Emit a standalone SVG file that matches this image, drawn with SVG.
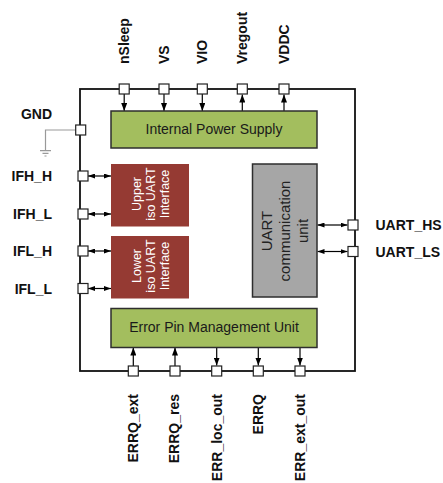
<svg xmlns="http://www.w3.org/2000/svg" width="443" height="483" viewBox="0 0 443 483">
<defs>
<marker id="ah" viewBox="0 0 8 6" refX="8" refY="3" markerWidth="8" markerHeight="6" markerUnits="userSpaceOnUse" orient="auto-start-reverse">
<path d="M0,0 L8,3 L0,6 Z" fill="#000"/>
</marker>
<marker id="as" viewBox="0 0 7 5" refX="7" refY="2.5" markerWidth="7" markerHeight="5" markerUnits="userSpaceOnUse" orient="auto-start-reverse">
<path d="M0,0 L7,2.5 L0,5 Z" fill="#000"/>
</marker>
</defs>
<style>
.lbl{font-family:"Liberation Sans",Arial,sans-serif;font-weight:bold;font-size:14px;fill:#111}
.pin{fill:#fff;stroke:#222;stroke-width:1.2}
.green{fill:#A3BE5E;stroke:#2e2e2e;stroke-width:1.5}
.red{fill:#953A33}
.gray{fill:#A6A6A6;stroke:#2e2e2e;stroke-width:1.5}
.btxt{font-family:"Liberation Sans",Arial,sans-serif;font-size:14px;fill:#1a1a1a;text-anchor:middle}
.wtxt{font-family:"Liberation Sans",Arial,sans-serif;font-size:12.5px;fill:#fff;text-anchor:middle}
.gtxt{font-family:"Liberation Sans",Arial,sans-serif;font-size:15px;fill:#222;text-anchor:middle}
.con{stroke:#000;stroke-width:1.2;fill:none}
</style>
<rect width="443" height="483" fill="#fff"/>
<g id="chip">
<rect x="80" y="89" width="275" height="282" fill="none" stroke="#111" stroke-width="1.8"/>
</g>
<g id="gnd-symbol">
<path d="M75.7,130 H45.5 V150.5" fill="none" stroke="#999" stroke-width="1.2"/>
<path d="M40,150.7 H51 M42.5,153.3 H48.5 M44.5,156 H46.5" stroke="#999" stroke-width="1.2"/>
</g>
<g id="connectors">
<line class="con" x1="124.2" y1="94" x2="124.2" y2="111" marker-end="url(#ah)"/>
<line class="con" x1="164" y1="94" x2="164" y2="111" marker-end="url(#ah)"/>
<line class="con" x1="202.3" y1="94" x2="202.3" y2="111" marker-end="url(#ah)"/>
<line class="con" x1="242.3" y1="111" x2="242.3" y2="94.5" marker-end="url(#ah)"/>
<line class="con" x1="284" y1="111" x2="284" y2="94.5" marker-end="url(#ah)"/>
<line class="con" x1="88" y1="176" x2="111" y2="176" marker-start="url(#as)" marker-end="url(#as)"/>
<line class="con" x1="88" y1="214" x2="111" y2="214" marker-start="url(#as)" marker-end="url(#as)"/>
<line class="con" x1="88" y1="251" x2="111" y2="251" marker-start="url(#as)" marker-end="url(#as)"/>
<line class="con" x1="88" y1="288.5" x2="111" y2="288.5" marker-start="url(#as)" marker-end="url(#as)"/>
<line class="con" x1="317.5" y1="225" x2="347.5" y2="225" marker-start="url(#as)" marker-end="url(#as)"/>
<line class="con" x1="317.5" y1="251.5" x2="347.5" y2="251.5" marker-start="url(#as)" marker-end="url(#as)"/>
<line class="con" x1="133.3" y1="366" x2="133.3" y2="347.5" marker-end="url(#ah)"/>
<line class="con" x1="175" y1="366" x2="175" y2="347.5" marker-end="url(#ah)"/>
<line class="con" x1="216.7" y1="347.5" x2="216.7" y2="365.5" marker-end="url(#ah)"/>
<line class="con" x1="258.3" y1="347.5" x2="258.3" y2="365.5" marker-end="url(#ah)"/>
<line class="con" x1="300" y1="347.5" x2="300" y2="365.5" marker-end="url(#ah)"/>
</g>
<g id="ips">
<rect class="green" x="111" y="111" width="206" height="37"/>
<text class="btxt" x="214" y="134">Internal Power Supply</text>
</g>
<g id="upper-iso">
<rect class="red" x="111" y="164" width="78" height="62.5"/>
<text class="wtxt" transform="translate(150,194) rotate(-90)"><tspan x="0" y="-9.5">Upper</tspan><tspan x="0" y="4.5">iso UART</tspan><tspan x="0" y="18.5">Interface</tspan></text>
</g>
<g id="lower-iso">
<rect class="red" x="111" y="236" width="78" height="62.5"/>
<text class="wtxt" transform="translate(150,266) rotate(-90)"><tspan x="0" y="-9.5">Lower</tspan><tspan x="0" y="4.5">iso UART</tspan><tspan x="0" y="18.5">Interface</tspan></text>
</g>
<g id="uart-unit">
<rect class="gray" x="252.5" y="164" width="64.5" height="133"/>
<text class="gtxt" transform="translate(285,231) rotate(-90)"><tspan x="0" y="-13">UART</tspan><tspan x="0" y="5">communication</tspan><tspan x="0" y="23">unit</tspan></text>
</g>
<g id="epmu">
<rect class="green" x="111" y="308.5" width="206" height="39"/>
<text class="btxt" x="214" y="331.5">Error Pin Management Unit</text>
</g>
<g id="pin-nSleep"><rect class="pin" x="119.2" y="84" width="10" height="10"/><text class="lbl" transform="translate(128.7,64) rotate(-90)">nSleep</text></g>
<g id="pin-VS"><rect class="pin" x="159" y="84" width="10" height="10"/><text class="lbl" transform="translate(168.5,64) rotate(-90)">VS</text></g>
<g id="pin-VIO"><rect class="pin" x="197.3" y="84" width="10" height="10"/><text class="lbl" transform="translate(207,64) rotate(-90)">VIO</text></g>
<g id="pin-Vregout"><rect class="pin" x="237.3" y="84" width="10" height="10"/><text class="lbl" transform="translate(246.8,64) rotate(-90)">Vregout</text></g>
<g id="pin-VDDC"><rect class="pin" x="279" y="84" width="10" height="10"/><text class="lbl" transform="translate(288.5,64) rotate(-90)">VDDC</text></g>
<g id="pin-GND"><rect class="pin" x="75.7" y="125" width="10" height="10"/><text class="lbl" x="52" y="119" text-anchor="end">GND</text></g>
<g id="pin-IFH_H"><rect class="pin" x="78" y="171" width="10" height="10"/><text class="lbl" x="52" y="181" text-anchor="end">IFH_H</text></g>
<g id="pin-IFH_L"><rect class="pin" x="78" y="209" width="10" height="10"/><text class="lbl" x="52" y="219" text-anchor="end">IFH_L</text></g>
<g id="pin-IFL_H"><rect class="pin" x="78" y="246" width="10" height="10"/><text class="lbl" x="52" y="256" text-anchor="end">IFL_H</text></g>
<g id="pin-IFL_L"><rect class="pin" x="78" y="283.5" width="10" height="10"/><text class="lbl" x="52" y="293.5" text-anchor="end">IFL_L</text></g>
<g id="pin-UART_HS"><rect class="pin" x="348" y="220" width="10" height="10"/><text class="lbl" x="375.5" y="230">UART_HS</text></g>
<g id="pin-UART_LS"><rect class="pin" x="348" y="246.5" width="10" height="10"/><text class="lbl" x="375.5" y="256.5">UART_LS</text></g>
<g id="pin-ERRQ_ext"><rect class="pin" x="128.3" y="366" width="10" height="10"/><text class="lbl" text-anchor="end" transform="translate(137.5,394) rotate(-90)">ERRQ_ext</text></g>
<g id="pin-ERRQ_res"><rect class="pin" x="170" y="366" width="10" height="10"/><text class="lbl" text-anchor="end" transform="translate(179.2,394) rotate(-90)">ERRQ_res</text></g>
<g id="pin-ERR_loc_out"><rect class="pin" x="211.7" y="366" width="10" height="10"/><text class="lbl" text-anchor="end" transform="translate(221.5,394) rotate(-90)">ERR_loc_out</text></g>
<g id="pin-ERRQ"><rect class="pin" x="253.3" y="366" width="10" height="10"/><text class="lbl" text-anchor="end" transform="translate(263,394) rotate(-90)">ERRQ</text></g>
<g id="pin-ERR_ext_out"><rect class="pin" x="295" y="366" width="10" height="10"/><text class="lbl" text-anchor="end" transform="translate(304.8,394) rotate(-90)">ERR_ext_out</text></g>
</svg>
